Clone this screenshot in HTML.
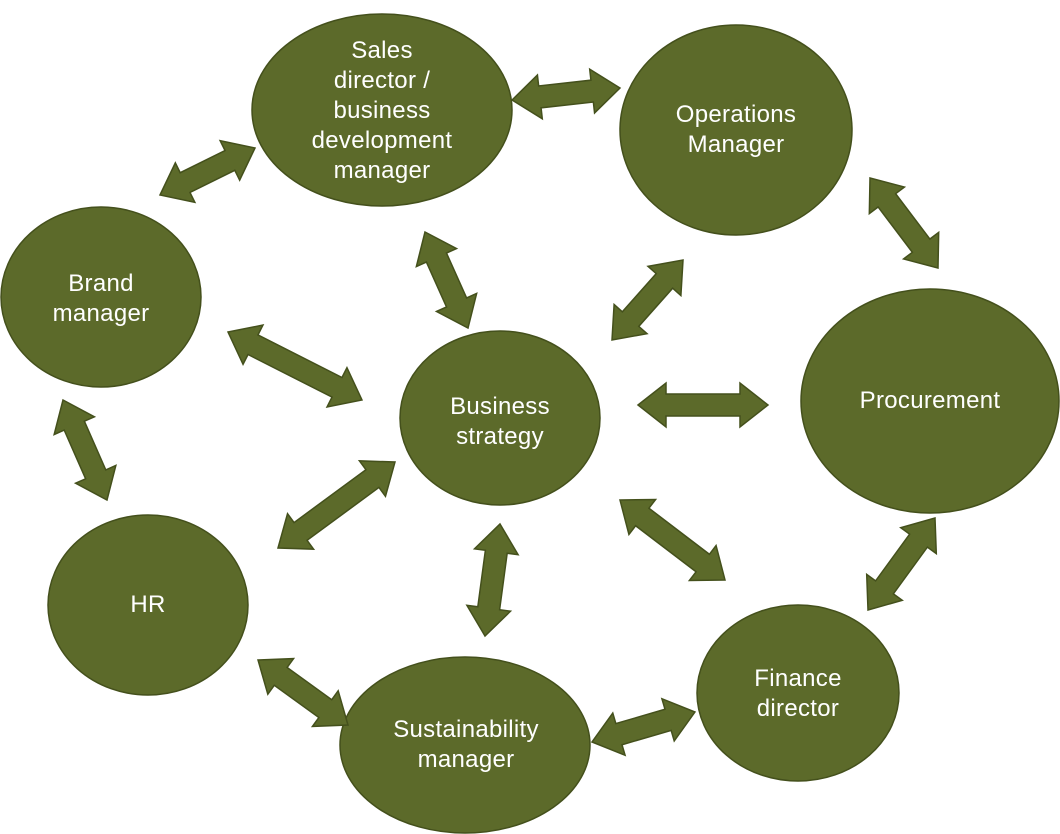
<!DOCTYPE html>
<html><head><meta charset="utf-8"><style>
html,body{margin:0;padding:0;background:#fff;}
svg{display:block;}
text{font-family:"Liberation Sans",Arial,sans-serif;font-size:24px;letter-spacing:0.3px;fill:#fff;text-anchor:middle;}
</style></head><body>
<svg id="s" width="1060" height="834" viewBox="0 0 1060 834" xmlns="http://www.w3.org/2000/svg">
<g fill="#5c6a2a" stroke="#44501c" stroke-width="1.5">
<ellipse cx="382" cy="110" rx="130" ry="96"/>
<ellipse cx="736" cy="130" rx="116" ry="105"/>
<ellipse cx="101" cy="297" rx="100" ry="90"/>
<ellipse cx="500" cy="418" rx="100" ry="87"/>
<ellipse cx="930" cy="401" rx="129" ry="112"/>
<ellipse cx="148" cy="605" rx="100" ry="90"/>
<ellipse cx="465" cy="745" rx="125" ry="88"/>
<ellipse cx="798" cy="693" rx="101" ry="88"/>
</g>
<g id="arrows" fill="#5c6a2a" stroke="#44501c" stroke-width="1.5"></g>
<text x="382" y="58">Sales</text>
<text x="382" y="88">director /</text>
<text x="382" y="118">business</text>
<text x="382" y="148">development</text>
<text x="382" y="178">manager</text>
<text x="736" y="122">Operations</text>
<text x="736" y="152">Manager</text>
<text x="101" y="291">Brand</text>
<text x="101" y="321">manager</text>
<text x="500" y="414">Business</text>
<text x="500" y="444">strategy</text>
<text x="930" y="408">Procurement</text>
<text x="148" y="612">HR</text>
<text x="466" y="737">Sustainability</text>
<text x="466" y="767">manager</text>
<text x="798" y="686">Finance</text>
<text x="798" y="716">director</text>
</svg>
<script>
var A=[[512,100,620,88],[160,195,255,148],[425,232,468,328],[612,340,683,260],[870,178,938,268],[228,332,362,400],[638,405,768,405],[63,400,107,500],[278,548,395,462],[500,524,485,636],[620,500,725,580],[935,518,868,610],[258,660,348,725],[592,742,695,712]];
var g=document.getElementById('arrows');
A.forEach(function(a){
 var dx=a[2]-a[0],dy=a[3]-a[1],L=Math.hypot(dx,dy),ang=Math.atan2(dy,dx)*180/Math.PI;
 var h=28,hw=22,sw=11,l=L/2;
 var pts=[[-l,0],[-l+h,-hw],[-l+h,-sw],[l-h,-sw],[l-h,-hw],[l,0],[l-h,hw],[l-h,sw],[-l+h,sw],[-l+h,hw]];
 var p=document.createElementNS('http://www.w3.org/2000/svg','polygon');
 p.setAttribute('points',pts.map(function(q){return q[0].toFixed(1)+','+q[1].toFixed(1)}).join(' '));
 p.setAttribute('transform','translate('+((a[0]+a[2])/2)+','+((a[1]+a[3])/2)+') rotate('+ang+')');
 g.appendChild(p);
});
</script>
</body></html>
